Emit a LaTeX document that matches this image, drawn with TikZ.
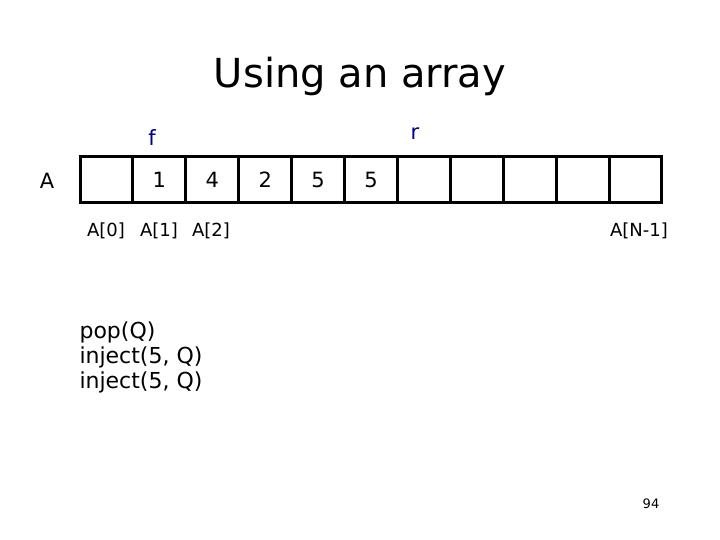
\documentclass[tikz,border=0pt]{standalone}
\usepackage{fontspec}
\setmainfont{DejaVu Sans}
\usetikzlibrary{positioning}
\colorlet{colorPtr}{blue!50!black}
\tikzset{
   cell/.style={draw,line width=3pt,minimum width=52.9pt,minimum height=46pt,inner sep=0pt,font=\fontsize{21}{25}\selectfont},
   idx/.style={font=\fontsize{18}{21}\selectfont},
   ptr/.style={font=\fontsize{21}{25}\selectfont,color=colorPtr},
}
\begin{document}
\begin{tikzpicture}[x=1pt,y=-1pt]
        \useasboundingbox (0,0) rectangle (720,540);

        \node[font=\fontsize{40}{48}\selectfont] (title) at (360,76) {Using an array};
        \node[font=\fontsize{21}{25}\selectfont] (lA) at (47,181) {A};

        \foreach \v [count=\i from 0] in {,1,4,2,5,5,,,,,} {
          \node[cell] (c\i) at (106.5+52.9*\i,180) {\v};
        }

        \node[ptr] (f) at (152,138) {f};
        \node[ptr] (r) at (415,134) {r};

        \node[idx] (a0) at (106,231) {A[0]};
        \node[idx] (a1) at (159,231) {A[1]};
        \node[idx] (a2) at (211,231) {A[2]};
        \node[idx] (an) at (639,231) {A[N-1]};

        \node[font=\fontsize{22}{25}\selectfont,align=left,anchor=north west] (ops) at (76,318)
          {pop(Q)\\inject(5, Q)\\inject(5, Q)};

        \node[font=\fontsize{13}{15}\selectfont] (pg) at (651,504) {94};

\end{tikzpicture}
\end{document}
